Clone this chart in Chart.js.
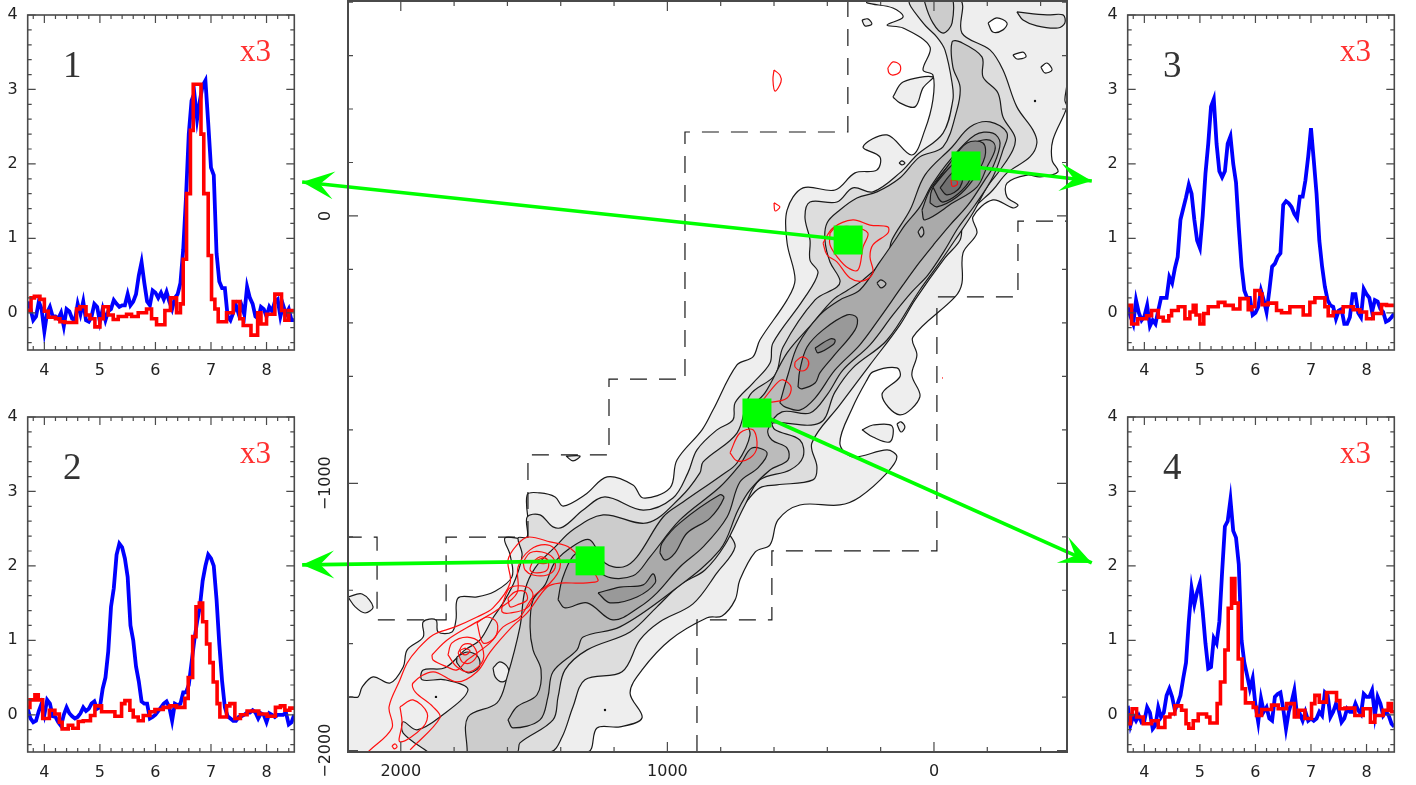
<!DOCTYPE html>
<html><head><meta charset="utf-8"><title>Spectra along the map</title>
<style>html,body{margin:0;padding:0;background:#fff;width:1416px;height:785px;overflow:hidden}canvas{position:absolute;display:block}</style>
<script src="https://cdn.jsdelivr.net/npm/chart.js@4"></script></head><body>
<canvas id="map" width="1416" height="785" style="left:0;top:0"></canvas>
<canvas id="p1" width="320" height="383" style="left:0;top:0"></canvas>
<canvas id="p2" width="320" height="383" style="left:0;top:402px"></canvas>
<canvas id="p3" width="320" height="383" style="left:1096px;top:0"></canvas>
<canvas id="p4" width="320" height="383" style="left:1096px;top:402px"></canvas>
<script>
// ---------- spectra: tick values ----------
const specXMajor=[4,5,6,7,8];
const specXMinor=[3.8,4.2,4.4,4.6,4.8,5.2,5.4,5.6,5.8,6.2,6.4,6.6,6.8,7.2,7.4,7.6,7.8,8.2,8.4];
const specYMajor=[0,1,2,3,4];
const specYMinor=[-.4,-.2,.2,.4,.6,.8,1.2,1.4,1.6,1.8,2.2,2.4,2.6,2.8,3.2,3.4,3.6,3.8];
const blueStartX=3.7, blueStepX=.05;
// ---------- spectra: blue traces, one value per channel ----------
const blue1=[.15,.05,-.1,-.05,.15,.05,-.25,0,.08,-.05,-.05,-.08,0,-.18,.05,.02,-.08,-.1,.12,-.02,.15,-.1,-.12,-.05,.12,.08,-.12,.05,-.1,.02,.05,.17,.12,.08,.1,.1,.25,.1,.15,.25,.5,.68,.4,.15,.1,.3,.27,.2,.27,.18,.28,.15,.05,.2,.25,.4,.85,1.55,2.4,2.85,2.95,2.6,2.85,3.05,3.12,2.55,1.95,1.85,.8,.42,.33,.33,-.05,-.1,0,.1,-.02,.1,-.02,.35,.2,.12,-.05,-.08,.08,.05,-.05,.08,.02,.15,.18,-.05,.1,-.02,.05,-.1,-.1];
const blue2=[.08,-.05,-.1,-.08,.05,.15,0,.2,.15,-.02,-.03,-.1,-.15,0,.1,.02,-.02,-.05,-.03,.02,.1,.05,.08,.15,.18,.08,.1,.35,.5,.85,1.45,1.7,2.15,2.3,2.25,2.1,1.85,1.2,1,.65,.45,.18,.15,.15,-.05,-.03,0,.05,.1,.15,.18,.1,-.08,.15,.13,.15,.3,.3,.4,.7,1,1.25,1.45,1.8,2,2.15,2.1,2,1.55,.95,.45,.1,-.02,-.05,-.08,-.08,-.03,-.02,0,.03,.03,.06,.03,-.05,.02,0,-.1,.02,0,-.03,0,0,0,.03,-.13,-.1,0];
const blue3=[.08,-.05,-.15,.17,0,-.1,-.05,.1,-.18,-.1,-.15,.03,.2,.2,.2,.48,.4,.6,.75,1.25,1.4,1.55,1.72,1.6,1.25,.97,.87,1.3,1.87,2.27,2.77,2.87,2.27,1.9,1.82,1.9,2.27,2.37,2,1.75,1.15,.62,.3,.2,.2,-.03,0,.08,.3,.17,.01,.3,.62,.66,.75,.8,1.45,1.5,1.47,1.42,1.33,1.27,1.56,1.56,1.78,2.1,2.48,2.05,1.6,.97,.62,.35,.17,.1,.08,-.08,.03,.05,-.15,-.15,-.06,.25,.25,0,-.06,.32,.25,.2,.01,.17,.15,.05,.01,-.12,-.1,-.06,-.01];
const blue4=[.12,-.14,-.01,-.08,-.01,-.1,-.08,.1,.03,-.19,-.14,.1,-.03,.03,.26,.35,.24,.06,.15,.26,.49,.7,1.25,1.7,1.48,1.65,1.77,1.39,.96,.62,.64,1.03,.96,1.25,1.92,2.53,2.6,2.89,2.47,2.38,2.02,1,.7,.53,.35,.49,.13,-.1,.22,.04,.1,-.05,-.08,.24,.28,.3,.08,-.19,.04,.17,.33,-.01,.01,-.08,.04,-.08,-.05,-.08,-.05,.04,-.01,.3,.26,-.03,.04,.15,.06,-.1,-.05,.08,.04,.04,.15,.06,.01,.28,.24,.24,.33,-.01,.24,.15,-.01,.04,-.01,-.12,-.16];
// ---------- spectra: red traces (x3), [channel start, value] ----------
const red1=[[3.7,.03],[3.76,.2],[3.82,.22],[3.92,.18],[4,.02],[4.07,-.06],[4.2,-.08],[4.28,-.12],[4.37,-.13],[4.58,.05],[4.64,.08],[4.75,-.03],[4.82,-.08],[4.91,-.19],[5,-.08],[5.06,.08],[5.15,-.03],[5.24,-.09],[5.33,-.05],[5.48,-.02],[5.57,-.05],[5.69,0],[5.84,.05],[5.93,-.08],[6.02,-.16],[6.17,.03],[6.27,.2],[6.38,0],[6.45,.12],[6.5,.72],[6.56,1.6],[6.63,2.45],[6.68,3.07],[6.82,2.4],[6.87,1.6],[6.95,.77],[7.01,.18],[7.07,.05],[7.13,-.12],[7.28,0],[7.4,.15],[7.52,-.08],[7.58,-.17],[7.72,-.3],[7.84,0],[7.9,-.15],[8,-.02],[8.15,.25],[8.27,.03],[8.33,-.1],[8.4,.03],[8.5,.03]];
const red2=[[3.7,.1],[3.74,.2],[3.83,.27],[3.89,.2],[3.97,-.05],[4.09,.06],[4.19,.01],[4.27,-.1],[4.32,-.19],[4.43,-.14],[4.51,-.18],[4.61,-.09],[4.7,-.08],[4.83,-.01],[4.91,.12],[5.03,.04],[5.27,-.02],[5.39,.15],[5.45,.19],[5.54,.06],[5.6,-.03],[5.69,-.08],[5.78,-.01],[5.9,.04],[5.99,.07],[6.14,.1],[6.26,.12],[6.38,.1],[6.53,.22],[6.59,.5],[6.67,1.05],[6.73,1.45],[6.79,1.5],[6.85,1.25],[6.92,.95],[6.98,.7],[7.04,.44],[7.11,.15],[7.16,-.03],[7.28,.12],[7.34,.15],[7.43,-.05],[7.53,0],[7.65,.05],[7.86,.01],[8.01,-.02],[8.16,.1],[8.25,.12],[8.33,.06],[8.42,.09],[8.5,.09]];
const red3=[[3.7,.1],[3.77,-.15],[3.88,-.08],[4.04,-.04],[4.13,.03],[4.25,-.06],[4.34,-.11],[4.44,-.04],[4.49,.03],[4.61,.08],[4.73,-.08],[4.82,.01],[4.88,.1],[4.93,-.03],[5,-.15],[5.07,-.01],[5.15,.08],[5.33,.14],[5.45,.1],[5.6,.05],[5.72,.19],[5.87,.04],[5.93,.08],[5.99,.3],[6.08,.25],[6.12,.11],[6.23,.13],[6.38,.03],[6.47,0],[6.62,.08],[6.86,-.03],[6.98,.14],[7.07,.2],[7.25,.08],[7.31,-.04],[7.4,.01],[7.58,.08],[7.76,.04],[7.88,.01],[8,-.08],[8.12,-.01],[8.27,.11],[8.36,.1],[8.5,.1]];
const red4=[[3.7,-.12],[3.75,0],[3.78,.08],[3.86,-.03],[3.98,-.12],[4.13,-.08],[4.25,-.17],[4.37,-.03],[4.46,.01],[4.55,.12],[4.67,.06],[4.75,-.12],[4.8,-.18],[4.88,-.08],[4.97,.01],[5.12,-.03],[5.18,-.11],[5.31,.15],[5.37,.44],[5.45,.87],[5.51,1.43],[5.57,1.83],[5.63,1.5],[5.69,.75],[5.76,.35],[5.82,.16],[5.96,.1],[6.02,-.01],[6.11,.07],[6.29,.13],[6.41,.08],[6.56,.15],[6.7,-.03],[6.77,.06],[6.89,-.05],[7.01,.15],[7.07,.26],[7.15,.17],[7.28,.3],[7.46,.19],[7.52,.08],[7.61,.09],[7.79,-.01],[7.94,.08],[8.07,-.1],[8.15,-.01],[8.3,.06],[8.39,.15],[8.45,.04],[8.5,.04]];

// ---------- map: tick values ----------
const mapXMajor=[2000,1000,0];
const mapXMinor=[1800,1600,1400,1200,800,600,400,200,-200,-400];
const mapYMajor=[0,-1000,-2000];
const mapYMinor=[800,600,400,200,-200,-400,-600,-800,-1200,-1400,-1600,-1800];
// ---------- map: grey contour levels, outer to inner ----------
const level1=[[2198,-2005],[2198,-1803],[2160,-1799],[2145,-1762],[2104,-1724],[2040,-1747],[1991,-1687],[1976,-1623],[1916,-1575],[1916,-1518],[1868,-1511],[1860,-1556],[1808,-1556],[1793,-1511],[1785,-1429],[1714,-1425],[1650,-1406],[1583,-1350],[1590,-1268],[1609,-1204],[1526,-1201],[1526,-1043],[1478,-1036],[1421,-1051],[1391,-1085],[1309,-1043],[1226,-976],[1129,-1006],[1091,-1055],[990,-1017],[964,-913],[870,-800],[829,-726],[739,-557],[679,-527],[653,-464],[551,-314],[521,-239],[551,-101],[551,22],[491,105],[371,97],[296,161],[214,172],[203,221],[266,258],[176,303],[83,228],[34,322],[4,434],[4,527],[41,546],[15,632],[116,703],[176,714],[116,744],[154,778],[251,797],[251,808],[-499,808],[-499,497],[-491,434],[-499,408],[-446,284],[-443,209],[-465,165],[-398,146],[-349,153],[-274,123],[-274,71],[-315,41],[-296,30],[-221,60],[-146,-4],[-161,-64],[-109,-138],[-105,-251],[-79,-303],[79,-453],[64,-520],[83,-595],[53,-677],[128,-744],[195,-669],[128,-602],[139,-568],[229,-583],[251,-613],[304,-714],[353,-849],[304,-901],[176,-875],[139,-901],[176,-961],[278,-1051],[353,-1081],[503,-1081],[585,-1137],[615,-1230],[671,-1257],[728,-1361],[746,-1436],[795,-1496],[851,-1503],[990,-1586],[1095,-1698],[1140,-1784],[1095,-1877],[1178,-1911],[1264,-1915],[1301,-2005]];
const level2=[[1898,-2005],[1991,-1934],[1991,-1892],[1939,-1922],[1853,-1874],[1748,-1773],[1834,-1735],[1920,-1735],[1916,-1698],[1834,-1690],[1759,-1623],[1703,-1586],[1654,-1503],[1609,-1436],[1571,-1361],[1545,-1268],[1560,-1204],[1526,-1201],[1526,-1126],[1478,-1118],[1429,-1163],[1391,-1163],[1316,-1100],[1234,-1051],[1091,-1100],[979,-1055],[923,-961],[889,-875],[814,-800],[754,-763],[746,-699],[679,-625],[615,-550],[604,-475],[491,-314],[435,-213],[465,-165],[465,-90],[484,-4],[465,52],[364,52],[304,105],[229,90],[128,161],[64,228],[-34,310],[-71,434],[-68,497],[-41,621],[-11,669],[41,722],[90,808],[-98,808],[-105,684],[-210,621],[-259,546],[-311,408],[-371,322],[-386,273],[-360,221],[-274,161],[-221,97],[-154,34],[-109,-22],[-98,-90],[-41,-157],[71,-314],[128,-408],[240,-557],[353,-707],[458,-849],[439,-939],[454,-987],[589,-1006],[653,-1017],[698,-1062],[776,-1163],[746,-1238],[814,-1335],[904,-1451],[1028,-1518],[1103,-1586],[1170,-1705],[1309,-1735],[1354,-1836],[1395,-1949],[1440,-2005]];
const level3=[[1751,-2005],[1748,-1874],[1639,-1821],[1601,-1724],[1553,-1537],[1534,-1399],[1496,-1316],[1421,-1238],[1354,-1174],[1241,-1118],[1076,-1148],[953,-1055],[878,-961],[866,-920],[739,-812],[690,-669],[596,-595],[566,-490],[446,-314],[364,-266],[353,-239],[390,-172],[409,-90],[401,-26],[353,22],[289,67],[214,90],[128,142],[53,221],[-34,258],[-86,396],[-98,482],[-71,557],[-68,651],[-98,651],[-180,595],[-184,520],[-240,460],[-259,370],[-304,295],[-296,247],[-248,172],[-199,108],[-146,11],[-79,-90],[-23,-172],[53,-277],[176,-464],[304,-568],[371,-658],[428,-774],[604,-774],[596,-800],[503,-838],[491,-901],[540,-950],[653,-987],[709,-1081],[784,-1230],[859,-1324],[953,-1380],[1039,-1462],[1140,-1556],[1301,-1623],[1384,-1698],[1410,-1799],[1429,-1885],[1553,-1971],[1564,-2005]];
const level4=[[1598,-1885],[1564,-1836],[1489,-1791],[1474,-1698],[1504,-1623],[1515,-1537],[1504,-1436],[1459,-1380],[1421,-1294],[1346,-1230],[1290,-1212],[1234,-1298],[1166,-1313],[1114,-1275],[1016,-1126],[941,-1070],[795,-969],[739,-924],[690,-819],[709,-744],[634,-662],[551,-512],[454,-400],[379,-314],[323,-277],[266,-239],[176,-153],[158,-90],[90,22],[34,153],[-68,258],[-135,333],[-210,352],[-274,310],[-259,247],[-221,146],[-154,41],[-90,-45],[-41,-127],[23,-221],[83,-284],[154,-370],[240,-482],[341,-576],[401,-669],[465,-737],[570,-733],[623,-800],[608,-838],[551,-868],[548,-913],[615,-950],[690,-1025],[735,-1100],[803,-1249],[990,-1410],[1178,-1537],[1316,-1575],[1339,-1623],[1429,-1705],[1448,-1799],[1478,-1885],[1579,-1915]];
const level5a=[[1410,-1436],[1395,-1361],[1354,-1272],[1309,-1257],[1234,-1346],[1129,-1346],[1065,-1275],[953,-1137],[803,-1014],[728,-931],[683,-868],[626,-886],[660,-942],[728,-995],[776,-1126],[866,-1238],[953,-1313],[1039,-1410],[1103,-1462],[1204,-1511],[1301,-1447],[1384,-1466]];
const level5b=[[578,-699],[548,-595],[510,-482],[428,-370],[353,-314],[278,-277],[203,-172],[146,-90],[109,-34],[53,34],[8,116],[-60,209],[-154,303],[-221,310],[-248,273],[-221,183],[-191,135],[-128,41],[-60,-34],[-4,-101],[53,-172],[116,-258],[203,-381],[278,-482],[371,-576],[446,-681],[503,-726],[559,-714]];
const level6a=[[1028,-1260],[1020,-1223],[953,-1148],[803,-1043],[788,-1055],[840,-1130],[926,-1186],[971,-1260],[1009,-1287]];
const level6b=[[1260,-1410],[1178,-1388],[1091,-1380],[1054,-1339],[1046,-1373],[1114,-1425],[1215,-1447]];
const level6c=[[510,-640],[503,-576],[476,-490],[416,-426],[326,-370],[289,-381],[296,-426],[379,-527],[428,-587],[446,-625],[495,-647]];
const level6d=[[45,22],[15,97],[-49,183],[-124,258],[-184,284],[-221,277],[-229,247],[-199,183],[-161,108],[-71,49],[34,-15]];
const level7c=[[446,-494],[390,-460],[371,-464],[379,-482],[435,-512]];
const level7d=[[15,49],[8,97],[-60,198],[-124,273],[-184,273],[-191,221],[-146,135],[-86,71],[-11,34]];
const level8d=[[4,108],[-60,183],[-124,236],[-135,135],[-34,52]];
const level9d=[[-23,105],[-68,161],[-109,183],[-98,108],[-49,79]];
// ---------- map: small islands and holes ----------
const islandsLevel1=[
 [[2198,-1425],[2145,-1414],[2104,-1462],[2134,-1485],[2171,-1462]],
 [[154,445],[116,501],[4,520],[41,479],[71,408],[128,423]],
 [[270,733],[248,737],[233,718],[259,711]],
 [[270,-800],[229,-782],[158,-785],[165,-845],[229,-827]],
 [[139,-778],[124,-770],[109,-789],[124,-808]],
 [[131,198],[120,206],[109,198],[120,191]],
 [[1380,-898],[1328,-898],[1354,-916]],
 [[1654,-1690],[1628,-1668],[1598,-1690],[1598,-1728],[1620,-1743],[1646,-1724]]];
const holesWhite=[
 [[-203,722],[-236,741],[-274,722],[-259,696],[-221,688]],
 [[-296,602],[-334,613],[-345,595],[-311,587]],
 [[-401,557],[-424,572],[-443,546],[-416,535]]];
const islandLevel2=[[-311,763],[-424,752],[-484,752],[-491,722],[-465,703],[-386,711],[-334,733]];
const islandLevel3=[[1789,-1649],[1751,-1631],[1710,-1649],[1706,-1687],[1748,-1709],[1789,-1672]];
const islandLevel3Top=[[34,830],[34,797],[4,722],[-34,684],[-68,722],[-60,830]];
const holesLevel4=[
 [[214,-251],[199,-239],[180,-254],[199,-269]],
 [[60,-60],[45,-41],[38,-64],[49,-79]]];
const dots=[[1234,-1848],[-379,430],[1868,-1799]];
// ---------- map: survey boundary ----------
const boundaryLower=[[889,-2005],[889,-1511],[608,-1511],[608,-1253],[-11,-1253],[-11,-303],[-315,-303],[-315,-19],[-499,-19]];
const boundaryUpper=[[323,808],[323,314],[934,314],[934,-610],[1219,-610],[1219,-894],[1523,-894],[1523,-1201],[1830,-1201],[1830,-1511],[2089,-1511],[2089,-1201],[2198,-1201]];
// ---------- map: red contours ----------
const redOpen=[[2123,-2005],[2033,-1915],[2044,-1836],[2003,-1735],[1976,-1672],[1939,-1623],[1879,-1567],[1796,-1537],[1714,-1500],[1654,-1466],[1590,-1373],[1598,-1287],[1564,-1230],[1523,-1201],[1440,-1219],[1365,-1242],[1260,-1361],[1316,-1373],[1403,-1373],[1451,-1388],[1526,-1485],[1583,-1537],[1665,-1631],[1714,-1705],[1789,-1743],[1879,-1705],[1954,-1747],[1946,-1780],[1879,-1836],[1853,-1877],[1965,-1997]];
const redLoops=[
 [[2003,-1836],[1954,-1810],[1901,-1859],[1916,-1911],[2003,-1967],[1995,-1896]],
 [[2033,-1982],[2021,-1975],[2014,-1986],[2025,-1993]],
 [[1883,-1642],[1826,-1586],[1721,-1522],[1639,-1474],[1564,-1410],[1560,-1313],[1515,-1249],[1451,-1230],[1414,-1257],[1403,-1316],[1440,-1373],[1504,-1425],[1553,-1500],[1616,-1537],[1665,-1597],[1751,-1661],[1789,-1698],[1826,-1687],[1879,-1661]],
 [[1541,-1294],[1515,-1260],[1470,-1257],[1429,-1279],[1421,-1316],[1451,-1343],[1504,-1343],[1534,-1324]],
 [[1508,-1298],[1478,-1275],[1448,-1287],[1451,-1324],[1489,-1335],[1515,-1324]],
 [[1489,-1287],[1459,-1279],[1451,-1298],[1485,-1298]],
 [[1616,-1444],[1590,-1391],[1526,-1388],[1504,-1417],[1526,-1466],[1590,-1485],[1620,-1481]],
 [[1598,-1429],[1571,-1406],[1534,-1406],[1526,-1436],[1564,-1455],[1590,-1462]],
 [[1823,-1642],[1808,-1597],[1751,-1575],[1703,-1597],[1691,-1661],[1740,-1705],[1789,-1687]],
 [[1785,-1634],[1766,-1604],[1733,-1604],[1714,-1642],[1740,-1672],[1770,-1668]],
 [[1759,-1616],[1740,-1627],[1759,-1642],[1778,-1627]],
 [[1714,-1522],[1676,-1500],[1639,-1522],[1646,-1575],[1691,-1597]],
 [[416,-101],[379,-45],[304,-15],[240,-34],[173,-41],[173,-64],[229,-108],[240,-153],[229,-213],[266,-243],[315,-232],[364,-172],[401,-146]],
 [[390,-64],[371,-45],[304,-41],[248,-64],[266,-116],[285,-202],[323,-194],[360,-157],[390,-108]],
 [[173,554],[154,576],[128,565],[128,539],[154,527],[169,535]],
 [[600,546],[578,527],[574,501],[596,467],[604,509]],
 [[600,49],[578,34],[596,19]],
 [[521,-546],[495,-527],[473,-539],[473,-565],[495,-580],[521,-565]],
 [[641,-688],[589,-625],[566,-613],[536,-640],[551,-681],[608,-696]],
 [[765,-886],[728,-812],[679,-800],[664,-864],[690,-905],[739,-916]],
 [[-64,135],[-86,131],[-86,116],[-68,112]]];
const redSpeck=[[-30,-606],[-34,-606]];
// ---------- map: sampled positions and arrows to their spectra ----------
const samplePositions=[[-120,187],[322,-90],[664,-737],[1290,-1290]];
const arrowFrom=[[322,-90],[-120,187],[1290,-1290],[664,-737]];
const arrowTo=[[2370,127],[-592,131],[2370,-1305],[-592,-1298]];

const panelNames=['1','2','3','4'];
const panelNameAt=[4.5,3.3];
const scaleNote='x3';
const scaleNoteAt=[7.8,3.49];

const toPts=a=>a.map(p=>({x:p[0],y:p[1]}));
const closed=a=>toPts(a.concat([a[0]]));
const EDGE='#4a4a4a';

function drawInward(ctx,area,xs,ys,xVals,yVals,len){
  ctx.beginPath();
  xVals.forEach(v=>{const p=xs.getPixelForValue(v);
    ctx.moveTo(p,area.top);ctx.lineTo(p,area.top+len);ctx.moveTo(p,area.bottom);ctx.lineTo(p,area.bottom-len);});
  yVals.forEach(v=>{const p=ys.getPixelForValue(v);
    ctx.moveTo(area.left,p);ctx.lineTo(area.left+len,p);ctx.moveTo(area.right,p);ctx.lineTo(area.right-len,p);});
  ctx.stroke();
}
function framePlugin(xMajor,xMinor,yMajor,yMinor,minorLen,majorLen,w){
  return {id:'frame',afterDraw(chart){
    const {ctx,chartArea:a,scales:{x,y}}=chart;
    ctx.save();ctx.strokeStyle=EDGE;ctx.lineWidth=w;
    ctx.strokeRect(a.left,a.top,a.right-a.left,a.bottom-a.top);
    ctx.lineWidth=1.2;
    drawInward(ctx,a,x,y,xMinor,yMinor,minorLen);
    drawInward(ctx,a,x,y,xMajor,yMajor,majorLen);
    ctx.restore();
  }};
}
function axisOpts(lo,hi,vals,size,pad,extra){
  return Object.assign({type:'linear',min:lo,max:hi,
    grid:{display:false,drawTicks:false},border:{display:false},
    afterBuildTicks:s=>{s.ticks=vals.map(v=>({value:v}));},
    afterFit:s=>{
      if(s.isHorizontal())s.height=size;else s.width=size;
      s.paddingLeft=s.paddingRight=s.paddingTop=s.paddingBottom=0;
    },
    ticks:{autoSkip:false,maxRotation:0,minRotation:0,color:'#222',
      font:{family:'"DejaVu Sans"',size:16},padding:pad,callback:v=>String(v)}},extra||{});
}
const baseOpts={responsive:false,animation:false,events:[],
  plugins:{legend:{display:false},tooltip:{enabled:false}}};

function spectrum(id,blue,red,name,leftSize,rightPad){
  const bluePts=blue.map((v,i)=>({x:blueStartX+i*blueStepX,y:v}));
  new Chart(document.getElementById(id),{type:'scatter',
    data:{datasets:[
      {data:toPts(red),showLine:true,stepped:'before',borderColor:'#ff0000',borderWidth:3.6,pointRadius:0,order:1},
      {data:bluePts,showLine:true,borderColor:'#0000ff',borderWidth:3.8,pointRadius:0,order:2}
    ]},
    options:Object.assign({},baseOpts,{
      layout:{autoPadding:false,padding:{left:0,right:rightPad,top:15,bottom:0}},
      scales:{x:axisOpts(3.7,8.5,specXMajor,33,11),y:axisOpts(-.5,4,specYMajor,leftSize,10)}
    }),
    plugins:[framePlugin(specXMajor,specXMinor,specYMajor,specYMinor,4,8,1.6),{id:'notes',afterDraw(chart){
      const {ctx,scales:{x,y}}=chart;
      ctx.save();ctx.textAlign='center';ctx.textBaseline='middle';
      ctx.fillStyle='#333';ctx.font='37px "Liberation Serif"';
      ctx.fillText(name,x.getPixelForValue(panelNameAt[0]),y.getPixelForValue(panelNameAt[1]));
      ctx.fillStyle='#ff3030';ctx.font='31px "Liberation Serif"';
      ctx.fillText(scaleNote,x.getPixelForValue(scaleNoteAt[0]),y.getPixelForValue(scaleNoteAt[1]));
      ctx.restore();
    }}]
  });
}
spectrum('p1',blue1,red1,panelNames[0],27.7,25.7);
spectrum('p2',blue2,red2,panelNames[1],27.7,25.7);
spectrum('p3',blue3,red3,panelNames[2],31.7,21.7);
spectrum('p4',blue4,red4,panelNames[3],31.7,21.7);

// ---------- map ----------
const layers=[];
function filled(a,color){layers.push({data:closed(a),showLine:true,fill:'shape',backgroundColor:color,borderColor:'#1a1a1a',borderWidth:1.2,pointRadius:0,tension:.35});}
function redLine(pts){layers.push({data:pts,showLine:true,borderColor:'#ff1010',borderWidth:1.2,pointRadius:0,tension:.35});}
filled(level1,'#eeeeee');
holesWhite.forEach(a=>filled(a,'#ffffff'));
islandsLevel1.slice(0,7).forEach(a=>filled(a,'#eeeeee'));
filled(islandLevel2,'#dddddd');
filled(level2,'#dddddd');
filled(islandsLevel1[7],'#eeeeee');
filled(level3,'#cccccc');
filled(islandLevel3,'#cccccc');
filled(islandLevel3Top,'#cccccc');
filled(level4,'#bbbbbb');
filled(level5a,'#aaaaaa');
filled(level5b,'#aaaaaa');
holesLevel4.forEach(a=>filled(a,'#bbbbbb'));
filled(level6a,'#999999');filled(level6b,'#999999');filled(level6c,'#999999');filled(level6d,'#999999');
filled(level7c,'#888888');filled(level7d,'#888888');
filled(level8d,'#808080');filled(level9d,'#707070');
layers.push({data:toPts(dots),pointRadius:1.2,pointBackgroundColor:'#111',pointBorderWidth:0});
[boundaryLower,boundaryUpper].forEach(a=>layers.push({data:toPts(a),showLine:true,borderColor:'#1a1a1a',borderWidth:1.2,borderDash:[17,12],pointRadius:0}));
redLine(toPts(redOpen));
redLoops.forEach(a=>redLine(closed(a)));
redLine(toPts(redSpeck));
arrowFrom.forEach((f,i)=>layers.push({data:toPts([f,arrowTo[i]]),showLine:true,borderColor:'#00ff00',borderWidth:3.6,pointRadius:0,clip:false}));
layers.push({data:toPts(samplePositions),pointStyle:'rect',pointRadius:20.5,pointBackgroundColor:'#00ff00',pointBorderWidth:0,clip:false});
layers.forEach((d,i)=>{d.order=layers.length-i;});

new Chart(document.getElementById('map'),{type:'scatter',
  data:{datasets:layers},
  options:Object.assign({},baseOpts,{
    layout:{autoPadding:false,padding:{left:0,right:349,top:1,bottom:0}},
    scales:{
      x:axisOpts(-499,2198,mapXMajor,33,10,{reverse:true}),
      y:Object.assign(axisOpts(-2005,804,mapYMajor,348,10),{ticks:{display:false}})
    }
  }),
  plugins:[framePlugin(mapXMajor,mapXMinor,mapYMajor,mapYMinor,5,10,2),{id:'extras',afterDraw(chart){
    const {ctx,chartArea:a,scales:{x,y}}=chart;
    ctx.save();
    ctx.fillStyle='#00ff00';
    arrowTo.forEach((t,i)=>{
      const f=arrowFrom[i];
      const tx=x.getPixelForValue(t[0]),ty=y.getPixelForValue(t[1]);
      const fx=x.getPixelForValue(f[0]),fy=y.getPixelForValue(f[1]);
      const ang=Math.atan2(fy-ty,fx-tx);
      ctx.save();ctx.translate(tx,ty);ctx.rotate(ang);
      ctx.beginPath();ctx.moveTo(0,0);ctx.lineTo(32,-14);ctx.lineTo(18,0);ctx.lineTo(32,14);ctx.closePath();ctx.fill();
      ctx.restore();
    });
    ctx.fillStyle='#222';ctx.font='16px "DejaVu Sans"';ctx.textAlign='center';ctx.textBaseline='middle';
    mapYMajor.forEach(v=>{
      ctx.save();ctx.translate(a.left-22,y.getPixelForValue(v));ctx.rotate(-Math.PI/2);
      ctx.fillText(String(v).replace('-','\u2212'),0,0);
      ctx.restore();
    });
    ctx.restore();
  }}]
});
</script></body></html>
